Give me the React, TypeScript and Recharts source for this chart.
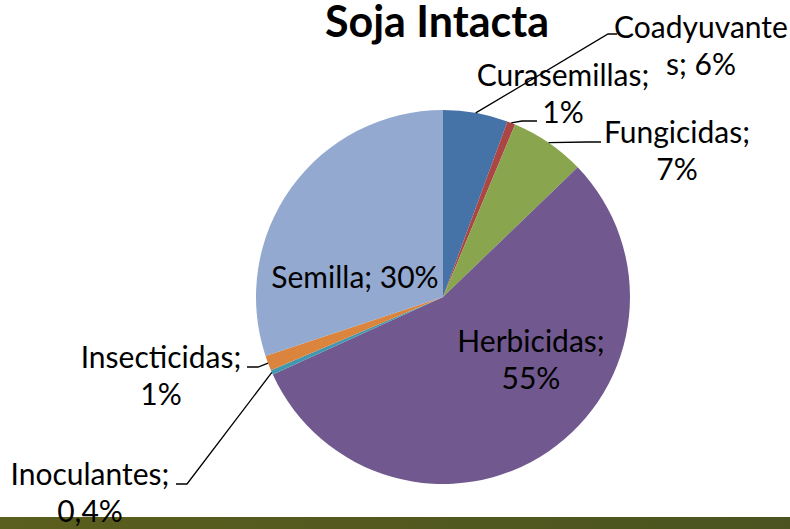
import { PieChart, Pie, Cell } from 'recharts';

const categories = ['Coadyuvantes', 'Curasemillas', 'Fungicidas', 'Herbicidas', 'Inoculantes', 'Insecticidas', 'Semilla'];
const shares = [5.6, 0.7, 6.5, 55.4, 0.4, 1.3, 30.1];
const labelText = [
  ['Coadyuvante', 's; 6%'],
  ['Curasemillas;', '1%'],
  ['Fungicidas;', '7%'],
  ['Herbicidas;', '55%'],
  ['Inoculantes;', '0,4%'],
  ['Insecticidas;', '1%'],
  ['Semilla; 30%'],
];
const colors = ['#4572A7', '#AA4643', '#89A54E', '#71588F', '#4198AF', '#DB843D', '#93A9CF'];
const title = 'Soja Intacta';

const data = categories.map((name, i) => ({ name, value: shares[i] }));

// where each label sits: text centre x, first baseline y, leader elbow and end
const placement: { x: number; y: number; leader?: number[][] }[] = [
  { x: 701, y: 38, leader: [[608, 34], [617, 34]] },
  { x: 563, y: 86, leader: [[522, 121], [537, 121]] },
  { x: 677, y: 143, leader: [[587, 142], [601, 142]] },
  { x: 531, y: 352 },
  { x: 90, y: 485, leader: [[187, 484], [176, 484]] },
  { x: 161, y: 368, leader: [[258, 367], [247, 367]] },
  { x: 355, y: 288 },
];

const FONT = 'Lato, "Open Sans", sans-serif';
const RAD = Math.PI / 180;

function renderLabel(props: any) {
  const { cx, cy, midAngle, outerRadius, index } = props;
  const p = placement[index];
  const sx = cx + outerRadius * Math.cos(-midAngle * RAD);
  const sy = cy + outerRadius * Math.sin(-midAngle * RAD);
  const pts = p.leader ? [[sx, sy], ...p.leader].map((q) => q.join(',')).join(' ') : null;
  return (
    <g key={`lbl-${index}`}>
      {pts && <polyline points={pts} fill="none" stroke="#000" strokeWidth={1.3} />}
      <text x={p.x} y={p.y} textAnchor="middle" fontFamily={FONT} fontSize={30} fill="#000">
        {labelText[index].map((t, j) => (
          <tspan key={j} x={p.x} dy={j === 0 ? 0 : 37}>
            {t}
          </tspan>
        ))}
      </text>
    </g>
  );
}

export default function App() {
  return (
    <div style={{ position: 'absolute', left: 0, top: 0, width: 790, height: 529, background: '#fff', overflow: 'hidden' }}>
      <div
        style={{
          position: 'absolute',
          left: 0,
          top: 517,
          width: 790,
          height: 12,
          background: 'linear-gradient(to right, #5a5e1e, #4b5420)',
        }}
      />
      <svg width={790} height={60} style={{ position: 'absolute', left: 0, top: 0 }}>
        <text x={437} y={37} textAnchor="middle" fontFamily={FONT} fontWeight={700} fontSize={43} fill="#000">
          {title}
        </text>
      </svg>
      <div style={{ position: 'absolute', left: 0, top: 0 }}>
        <PieChart width={790} height={529} margin={{ top: 0, right: 0, bottom: 0, left: 0 }}>
          <Pie
            data={data}
            dataKey="value"
            nameKey="name"
            cx={443}
            cy={297}
            outerRadius={187}
            startAngle={90}
            endAngle={-270}
            stroke="none"
            label={renderLabel}
            labelLine={false}
            isAnimationActive={false}
          >
            {data.map((d, i) => (
              <Cell key={d.name} fill={colors[i]} />
            ))}
          </Pie>
        </PieChart>
      </div>
    </div>
  );
}
